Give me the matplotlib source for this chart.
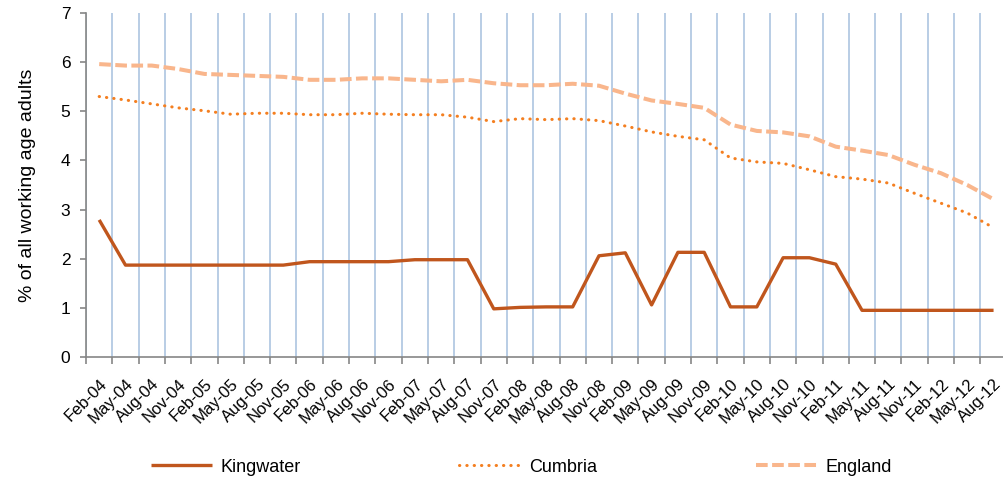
import matplotlib
matplotlib.use('Agg')
from matplotlib import pyplot as plt
import matplotlib.transforms as mtransforms
import numpy as np

months = ['Feb', 'May', 'Aug', 'Nov']
labels = []
for yr in range(4, 13):
    for m in months:
        labels.append('%s-%02d' % (m, yr))
labels = labels[:35]

kingwater = [2.79, 1.87, 1.87, 1.87, 1.87, 1.87, 1.87, 1.87, 1.94, 1.94,
             1.94, 1.94, 1.98, 1.98, 1.98, 0.98, 1.01, 1.02, 1.02, 2.06,
             2.12, 1.06, 2.13, 2.13, 1.02, 1.02, 2.02, 2.02, 1.89, 0.95,
             0.95, 0.95, 0.95, 0.95, 0.95]
cumbria = [5.30, 5.23, 5.15, 5.07, 5.01, 4.94, 4.96, 4.96, 4.93, 4.93,
           4.96, 4.94, 4.93, 4.93, 4.88, 4.79, 4.85, 4.83, 4.85, 4.81,
           4.70, 4.58, 4.49, 4.42, 4.05, 3.97, 3.94, 3.81, 3.67, 3.62,
           3.54, 3.33, 3.13, 2.93, 2.63]
england = [5.96, 5.93, 5.93, 5.86, 5.76, 5.74, 5.72, 5.70, 5.64, 5.64,
           5.67, 5.67, 5.64, 5.61, 5.64, 5.57, 5.53, 5.53, 5.56, 5.52,
           5.36, 5.22, 5.15, 5.07, 4.73, 4.60, 4.57, 4.49, 4.28, 4.20,
           4.11, 3.91, 3.74, 3.50, 3.21]

plt.rcParams['font.family'] = ['Liberation Sans', 'DejaVu Sans']

fig = plt.figure(figsize=(10.04, 4.88), dpi=100)
ax = fig.add_axes([0.0857, 0.2684, 0.917, 0.705])

x = np.arange(len(labels))
l1, = ax.plot(x, kingwater, color='#C0561D', lw=2.4, solid_capstyle='butt', zorder=3)
l2, = ax.plot(x, cumbria, color='#F47F20', lw=2.2, linestyle=(0, (0.1, 2.3)),
              dash_capstyle='round', zorder=3)
l3, = ax.plot(x, england, color='#F9B68C', lw=2.9, linestyle=(0, (2.9, 1.1)), zorder=3)

ax.set_xlim(-0.5, len(labels) - 0.5)
ax.set_ylim(0, 7)
ax.set_yticks(range(8))

ax.set_xticks(np.arange(len(labels) + 1) - 0.5)
ax.set_xticklabels([])
ax.set_xticks(x, minor=True)
ax.set_xticklabels(labels, minor=True, rotation=45, ha='right', va='top',
                   rotation_mode='anchor', fontsize=12)
# nudge rotated labels a little to the left
shift = mtransforms.ScaledTranslation(-3 / 100, 0, fig.dpi_scale_trans)
for t in ax.xaxis.get_minorticklabels():
    t.set_transform(t.get_transform() + shift)
ax.tick_params(axis='x', which='minor', length=0, pad=14)
ax.tick_params(axis='x', which='major', length=5, width=1.2, color='#868686')
ax.tick_params(axis='y', length=4.3, width=1.2, color='#868686', labelsize=12.5, pad=7)
ax.xaxis.grid(True, which='major', color='#B9CDE5', lw=1.4, zorder=0)
ax.set_axisbelow(True)

for s in ['top', 'right']:
    ax.spines[s].set_visible(False)
for s in ['left', 'bottom']:
    ax.spines[s].set_color('#868686')
    ax.spines[s].set_linewidth(1.2)

ax.set_ylabel('% of all working age adults', fontsize=14, labelpad=18)

fig.legend([l1, l2, l3], ['Kingwater', 'Cumbria', 'England'], loc='center',
           bbox_to_anchor=(0.519, 0.043), ncol=3, frameon=False, handlelength=3.4,
           handletextpad=0.45, columnspacing=8.8, prop={'size': 13})

fig.savefig('out.png', dpi=100)
